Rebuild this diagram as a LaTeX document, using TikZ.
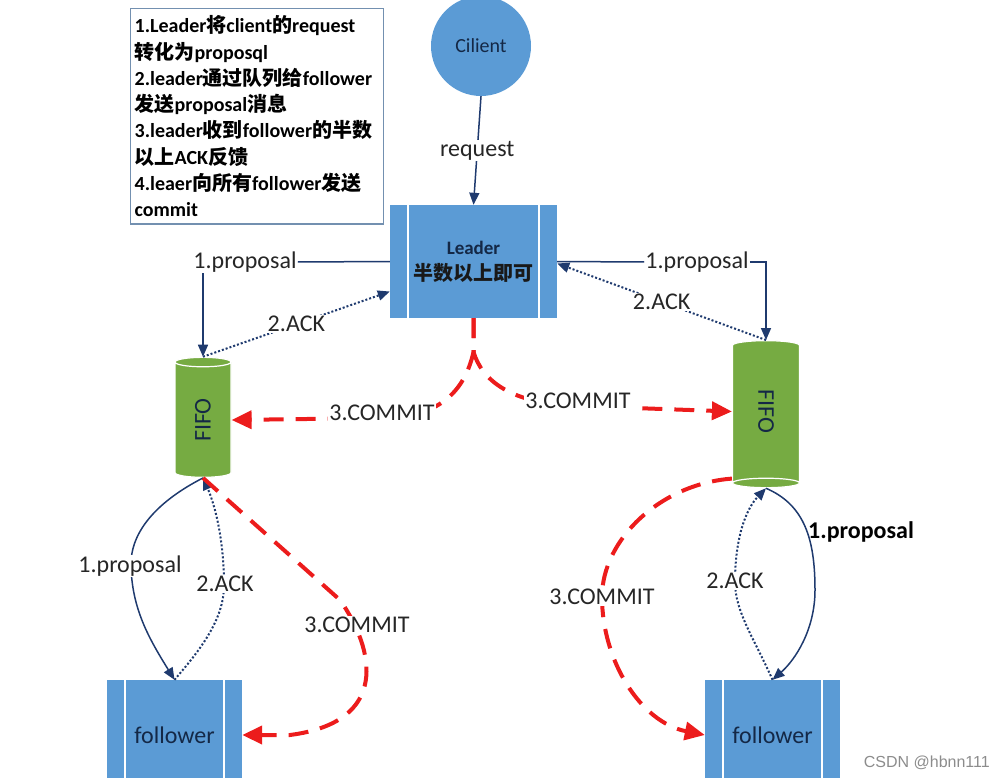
\documentclass[tikz,border=0pt]{standalone}
\usepackage{fontspec}
\setmainfont{Carlito}
\newfontfamily\cjk{Noto Sans CJK SC}
\newfontfamily\wmfont{Liberation Sans}
\usetikzlibrary{arrows.meta,shapes.geometric,positioning,calc}
\definecolor{boxblue}{HTML}{5B9BD5}
\definecolor{fifogreen}{HTML}{76AB42}
\definecolor{navy}{HTML}{1F3A6E}
\definecolor{textnavy}{HTML}{142846}
\definecolor{commitred}{HTML}{EC1C1C}
\definecolor{noteframe}{HTML}{7390B0}
\newcommand{\zh}[1]{{\cjk #1}}
\tikzset{
	procbox/.style={rectangle, fill=boxblue, text=textnavy, inner sep=0pt,
		path picture={
			\draw[white, line width=1.2pt] ([xshift=18pt]path picture bounding box.north west) -- ([xshift=18pt]path picture bounding box.south west);
			\draw[white, line width=1.2pt] ([xshift=-18pt]path picture bounding box.north east) -- ([xshift=-18pt]path picture bounding box.south east);
		}},
	fifobox/.style={cylinder, aspect=0.6, cylinder uses custom fill,
		cylinder body fill=fifogreen, cylinder end fill=fifogreen, draw=white,
		line width=1.2pt, text=textnavy, inner sep=0pt,
		font=\fontsize{24}{28}\selectfont},
	lbl/.style={fill=white, inner sep=1pt, text=black!85, font=\fontsize{24}{28}\selectfont},
	proparrow/.style={navy, line width=1.5pt, -{Triangle[length=12pt,width=10pt]}},
	ackarrow/.style={navy, line width=2pt, dash pattern=on 2pt off 2pt, -{Triangle[length=12pt,width=10pt]}},
	commitarrow/.style={commitred, line width=4pt, dash pattern=on 20pt off 12pt,
		-{Triangle[length=20pt,width=18pt]}}
}
\begin{document}
\begin{tikzpicture}[x=1pt, y=-1pt]
		%%%%% START %%%%%
		\useasboundingbox (0, 0) rectangle (1006, 778);
		\clip (0, 0) rectangle (1006, 778);
		
		% note box
		\node[draw=noteframe, line width=1.3pt, anchor=north west, inner xsep=4pt, inner ysep=7pt, text width=245pt, align=left,
			font=\bfseries\fontsize{20}{26.3}\selectfont] (note) at (130, 8)
			{1.Leader\zh{将}client\zh{的}request\\
			 \zh{转化为}proposql\\
			 2.leader\zh{通过队列给}follower\\
			 \zh{发送}proposal\zh{消息}\\
			 3.leader\zh{收到}follower\zh{的半数}\\
			 \zh{以上}ACK\zh{反馈}\\
			 4.leaer\zh{向所有}follower\zh{发送}\\
			 commit};
		
		% boxes
		\node[circle, fill=boxblue, minimum size=100pt, text=textnavy, font=\fontsize{20}{24}\selectfont] (client) at (481, 46) {Cilient};
		\node[procbox, minimum width=167pt, minimum height=113pt, align=center,
			font=\bfseries\fontsize{19}{26}\selectfont] (leader) at (473.5, 261.5)
			{Leader\\{\cjk\fontsize{20}{26}\selectfont\color{black!90}半数以上即可}};
		\node[fifobox, rotate=90, minimum height=120pt, minimum width=56pt] (fifoL) at (203, 420) {FIFO};
		\node[fifobox, rotate=-90, minimum height=147pt, minimum width=67pt] (fifoR) at (766, 411.5) {FIFO};
		\node[procbox, minimum width=135pt, minimum height=110pt, font=\fontsize{24}{28}\selectfont] (follL) at (174.5, 735) {follower};
		\node[procbox, minimum width=135pt, minimum height=110pt, font=\fontsize{24}{28}\selectfont] (follR) at (772.5, 735) {follower};
		
		% client -> leader
		\draw[proparrow] (client.south) -- node[lbl] (req) {request} (leader.north);
		
		% leader <-> fifos
		\node[lbl] (propL) at (245, 262) {1.proposal};
		\draw[navy, line width=1.5pt] (leader.west) -- (propL.east);
		\draw[proparrow] (propL.south -| fifoL.east) -- (fifoL.east);
		\draw[ackarrow] (fifoL.east) -- node[lbl] (ackL) {2.ACK} ([yshift=-30pt]leader.west);
		
		\node[lbl] (propR) at (697, 262) {1.proposal};
		\draw[navy, line width=1.5pt] (leader.east) -- (propR.west);
		\draw[proparrow] (propR.east) -| (fifoR.west);
		\draw[ackarrow] (fifoR.west) -- node[lbl] (ackR) {2.ACK} ([yshift=-2pt]leader.east);
		
		% commit from leader
		\coordinate (split) at (473.5, 352);
		\draw[commitarrow] (leader.south) -- (split) .. controls (466, 385) and (445, 418) .. (382, 418) -- (fifoL.south);
		\draw[commitarrow] (leader.south) -- (split) .. controls (482, 380) and (510, 404) .. (578, 406) -- (fifoR.south);
		\node[lbl] (comL) at (382, 413) {3.COMMIT};
		\node[lbl] (comR) at (578, 401) {3.COMMIT};
		
		% left fifo <-> follower
		\draw[proparrow] (fifoL.west) .. controls (160, 500) and (130, 530) .. (131, 566) .. controls (132, 610) and (150, 640) .. (follL.north);
		\draw[ackarrow] (follL.north) .. controls (200, 650) and (224, 620) .. (224, 585) .. controls (224, 540) and (215, 505) .. (fifoL.west);
		\draw[commitarrow] (fifoL.west) -- (340, 600) .. controls (375, 650) and (390, 722) .. (290, 735) -- (follL.east);
		\node[lbl] (p1L) at (130, 566) {1.proposal};
		\node[lbl] (a1L) at (225, 584) {2.ACK};
		\node[lbl] (c1L) at (357, 625) {3.COMMIT};
		
		% right fifo <-> follower
		\draw[commitarrow] ([yshift=-33pt]fifoR.south east) .. controls (660, 484) and (602, 540) .. (602, 597) .. controls (602, 660) and (640, 722) .. (follR.west);
		\draw[ackarrow] (follR.north) .. controls (755, 640) and (735, 612) .. (735, 582) .. controls (735, 540) and (745, 510) .. (fifoR.east);
		\draw[proparrow] (fifoR.east) .. controls (805, 505) and (815, 540) .. (815, 590) .. controls (815, 630) and (795, 660) .. (follR.north);
		\node[lbl] (c1R) at (602, 597) {3.COMMIT};
		\node[lbl] (a1R) at (735, 581) {2.ACK};
		\node[text=black, font=\bfseries\fontsize{24}{28}\selectfont, anchor=west, inner sep=0pt] (p1R) at (808, 532) {1.proposal};
		
		% watermark
		\node[text=black!45, font=\wmfont\fontsize{16}{18}\selectfont, anchor=east, inner sep=0pt] (mark) at (990, 763) {CSDN @hbnn111};
		%%%%% END %%%%%
\end{tikzpicture}
\end{document}
